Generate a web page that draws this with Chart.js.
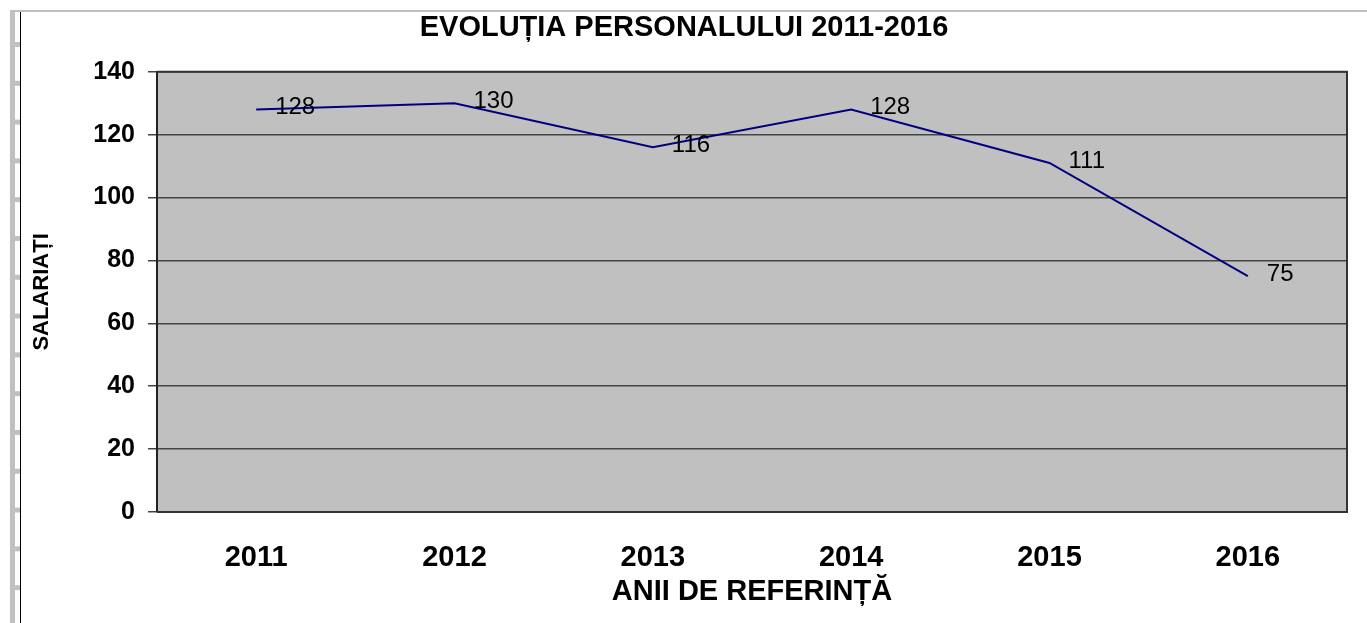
<!DOCTYPE html>
<html>
<head>
<meta charset="utf-8">
<script src="https://cdn.jsdelivr.net/npm/chart.js@4.4.0/dist/chart.umd.min.js"></script>
<style>
  html, body { margin: 0; padding: 0; background: #fff; }
  body { width: 1367px; height: 623px; position: relative; overflow: hidden; }
  #topLine { position: absolute; left: 10px; top: 10px; width: 1357px; height: 2px; background: #c0c0c0; }
  #sideBar { position: absolute; left: 10px; top: 10px; width: 5px; height: 613px; background: #c0c0c0; }
  #sideTicks { position: absolute; left: 15px; top: 12px; width: 5px; height: 611px;
    background-image: linear-gradient(to bottom, #c0c0c0 0px, #c0c0c0 5px, transparent 5px, transparent 100%);
    background-size: 5px 38.8px;
    background-position: 0 30px;
    background-repeat: repeat-y; }
  #blackLine { position: absolute; left: 20px; top: 12px; width: 1px; height: 611px; background: #000; }
  #wrap { position: absolute; left: 21px; top: 0; width: 1346px; height: 623px; }
</style>
</head>
<body>
<div id="sideBar"></div>
<div id="sideTicks"></div>
<div id="topLine"></div>
<div id="blackLine"></div>
<div id="wrap"><canvas id="personal"></canvas></div>
<script>
/* Date grafic */
var ani = ['2011', '2012', '2013', '2014', '2015', '2016'];
var salariati = [128, 130, 116, 128, 111, 75];
var titlu = 'EVOLUȚIA PERSONALULUI 2011-2016';
var titluX = 'ANII DE REFERINȚĂ';
var titluY = 'SALARIAȚI';

var FONT = "'Liberation Sans', Arial, sans-serif";

/* Fundal gri al zonei de desen + chenar */
var plotArea = {
    id: 'plotArea',
    beforeDraw: function (chart) {
        var a = chart.chartArea;
        var ctx = chart.ctx;
        ctx.save();
        ctx.fillStyle = '#c0c0c0';
        ctx.fillRect(a.left, a.top, a.right - a.left, a.bottom - a.top);
        ctx.restore();
    },
    afterDatasetsDraw: function (chart) {
        var a = chart.chartArea;
        var ctx = chart.ctx;
        ctx.save();
        ctx.strokeStyle = '#333';
        ctx.lineWidth = 2;
        ctx.beginPath();
        ctx.moveTo(a.left, a.top);
        ctx.lineTo(a.right, a.top);
        ctx.lineTo(a.right, a.bottom);
        ctx.lineTo(a.left, a.bottom);
        ctx.stroke();
        ctx.restore();
    }
};

/* Etichete cu valori langa puncte */
var valueLabels = {
    id: 'valueLabels',
    afterDatasetsDraw: function (chart) {
        var ctx = chart.ctx;
        var meta = chart.getDatasetMeta(0);
        ctx.save();
        ctx.font = '24px ' + FONT;
        ctx.fillStyle = '#000';
        ctx.textAlign = 'left';
        ctx.textBaseline = 'middle';
        meta.data.forEach(function (pt, i) {
            ctx.fillText(String(salariati[i]), pt.x + 19, pt.y - 2);
        });
        ctx.restore();
    }
};

var ctxPersonal = document.getElementById('personal');

var chartPersonal = new Chart(ctxPersonal, {
    type: 'line',
    data: {
        labels: ani,
        datasets: [
            {
                label: 'Salariați',
                data: salariati,
                borderColor: '#000080',
                borderWidth: 2,
                pointRadius: 0,
                tension: 0,
                fill: false
            }
        ]
    },
    options: {
        responsive: true,
        maintainAspectRatio: false,
        animation: false,
        layout: { padding: { left: 0, right: 20, top: 0, bottom: 0 } },
        plugins: {
            legend: { display: false },
            tooltip: { enabled: false },
            title: {
                display: true,
                text: titlu,
                color: '#000',
                font: { family: FONT, size: 29, weight: 'bold' },
                padding: { top: 11, bottom: 26 }
            }
        },
        scales: {
            x: {
                offset: true,
                grid: { display: false, drawTicks: false },
                border: { display: false },
                ticks: {
                    color: '#000',
                    padding: 29,
                    maxRotation: 0,
                    font: { family: FONT, size: 29, weight: 'bold' }
                },
                title: {
                    display: true,
                    text: titluX,
                    color: '#000',
                    font: { family: FONT, size: 29, weight: 'bold' },
                    padding: { top: 0, bottom: 14 }
                },
                afterFit: function (scale) { scale.height = 111; }
            },
            y: {
                min: 0,
                max: 140,
                grid: { color: '#444', lineWidth: 1.5, tickLength: 9, drawTicks: true },
                border: { display: true, color: '#222', width: 2 },
                ticks: {
                    stepSize: 20,
                    color: '#000',
                    padding: 13,
                    font: { family: FONT, size: 25, weight: 'bold' }
                },
                title: {
                    display: true,
                    text: titluY,
                    color: '#000',
                    font: { family: FONT, size: 22, weight: 'bold' },
                    padding: { top: 8, bottom: 0 }
                },
                afterFit: function (scale) { scale.width = 136; }
            }
        }
    },
    plugins: [plotArea, valueLabels]
});
</script>
</body>
</html>
